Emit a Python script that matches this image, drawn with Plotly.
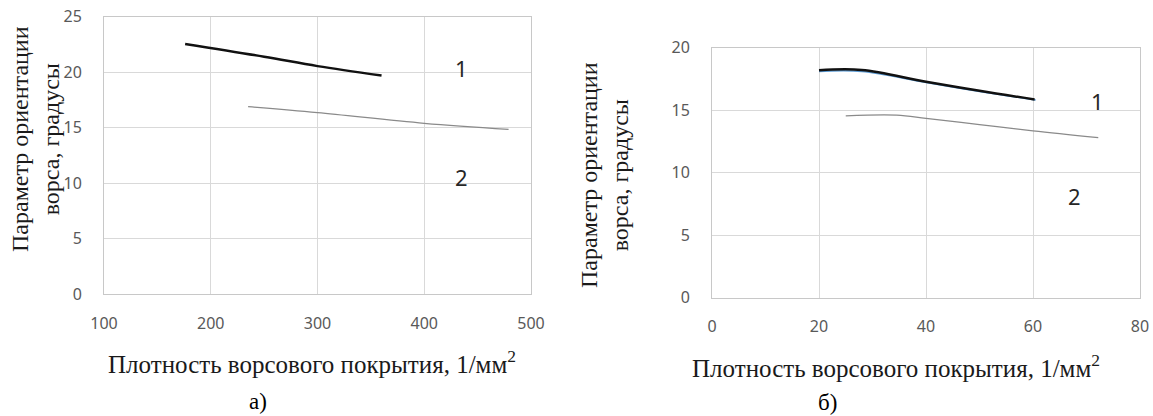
import plotly.graph_objects as go

W, H = 1153, 416

# ---- data: chart а) ----
a_x1 = [176, 250, 300, 360]
a_y1 = [22.55, 21.4, 20.55, 19.7]
a_x2 = [235, 300, 400, 479]
a_y2 = [16.9, 16.36, 15.4, 14.86]

# ---- data: chart б) ----
b_x1 = [20, 28, 40, 50, 60.3]
b_y1 = [18.2, 18.22, 17.28, 16.55, 15.86]
b_x1_blue = [20, 28, 40, 50, 60.5]
b_y1_blue = [18.1, 18.1, 17.22, 16.5, 15.82]
b_x2 = [25, 34.5, 40, 50, 60, 72.2]
b_y2 = [14.55, 14.6, 14.35, 13.85, 13.34, 12.8]

a_xticks = [100, 200, 300, 400, 500]
a_yticks = [0, 5, 10, 15, 20, 25]
b_xticks = [0, 20, 40, 60, 80]
b_yticks = [0, 5, 10, 15, 20]

curve_labels = ["1", "2"]
a_label_pos = [(435, 20.4), (435, 10.6)]
b_label_pos = [(72.1, 15.7), (67.7, 8.1)]

y_title = "Параметр ориентации<br>ворса, градусы"
x_title = "Плотность ворсового покрытия, 1/мм<sup>2</sup>"
captions = ["а)", "б)"]

def px(x):
    return x / W

def py(y):
    return 1 - y / H

fig = go.Figure()

fig.add_trace(go.Scatter(x=a_x1, y=a_y1, mode="lines", line=dict(color="#111111", width=2.5, shape="spline"),
                         xaxis="x", yaxis="y", showlegend=False))
fig.add_trace(go.Scatter(x=a_x2, y=a_y2, mode="lines", line=dict(color="#8a8a8a", width=1.2, shape="spline"),
                         xaxis="x", yaxis="y", showlegend=False))
fig.add_trace(go.Scatter(x=b_x1_blue, y=b_y1_blue, mode="lines", line=dict(color="#5b9bd5", width=1.5, shape="spline"),
                         xaxis="x2", yaxis="y2", showlegend=False))
fig.add_trace(go.Scatter(x=b_x1, y=b_y1, mode="lines", line=dict(color="#111111", width=2.5, shape="spline"),
                         xaxis="x2", yaxis="y2", showlegend=False))
fig.add_trace(go.Scatter(x=b_x2, y=b_y2, mode="lines", line=dict(color="#8a8a8a", width=1.2, shape="spline"),
                         xaxis="x2", yaxis="y2", showlegend=False))

tickfont = dict(family="Noto Sans", size=16, color="#595959")
grid = dict(showgrid=True, gridcolor="#d9d9d9", gridwidth=1, zeroline=False,
            showline=True, linecolor="#c8c8c8", linewidth=1, mirror=True,
            ticks="", tickfont=tickfont, automargin=False, ticklabeloverflow="allow")

fig.update_layout(
    width=W, height=H,
    margin=dict(l=0, r=0, t=0, b=0, autoexpand=False),
    paper_bgcolor="white", plot_bgcolor="white",
    xaxis=dict(domain=[px(104), px(531)], range=[100, 500], tickvals=a_xticks,
               anchor="y", ticklabelstandoff=14, **grid),
    yaxis=dict(domain=[py(294.3), py(16.7)], range=[0, 25], tickvals=a_yticks,
               anchor="x", ticklabelstandoff=18, **grid),
    xaxis2=dict(domain=[px(712), px(1140)], range=[0, 80], tickvals=b_xticks,
                anchor="y2", ticklabelstandoff=14, **grid),
    yaxis2=dict(domain=[py(297.7), py(47.7)], range=[0, 20], tickvals=b_yticks,
                anchor="x2", ticklabelstandoff=18, **grid),
)

ann = []
labfont = dict(family="Noto Sans", size=22, color="#262626")
for t, (x, y) in zip(curve_labels, a_label_pos):
    ann.append(dict(x=x, y=y, xref="x", yref="y", text=t, showarrow=False, font=labfont))
for t, (x, y) in zip(curve_labels, b_label_pos):
    ann.append(dict(x=x, y=y, xref="x2", yref="y2", text=t, showarrow=False, font=labfont))

serif_y = dict(family="Liberation Serif", size=24, color="#1a1a1a")
serif_x = dict(family="Liberation Serif", size=25, color="#1a1a1a")
for (cx, cy) in [(35, 139), (605, 175)]:
    ann.append(dict(x=px(cx), y=py(cy), xref="paper", yref="paper", text=y_title, textangle=-90,
                    showarrow=False, xanchor="center", yanchor="middle", font=serif_y))
for (cx, cy) in [(312, 362), (896, 366)]:
    ann.append(dict(x=px(cx), y=py(cy), xref="paper", yref="paper", text=x_title,
                    showarrow=False, xanchor="center", yanchor="middle", font=serif_x))
for t, (cx, cy) in zip(captions, [(258, 401), (827, 402)]):
    ann.append(dict(x=px(cx), y=py(cy), xref="paper", yref="paper", text=t,
                    showarrow=False, xanchor="center", yanchor="middle",
                    font=dict(family="Liberation Serif", size=23, color="#000000")))

fig.update_layout(annotations=ann)
fig.write_html(
    "out.html",
    config={"displayModeBar": False},
    post_script="document.body.style.margin='0px';document.documentElement.style.overflow='hidden';document.body.style.overflow='hidden';",
)
